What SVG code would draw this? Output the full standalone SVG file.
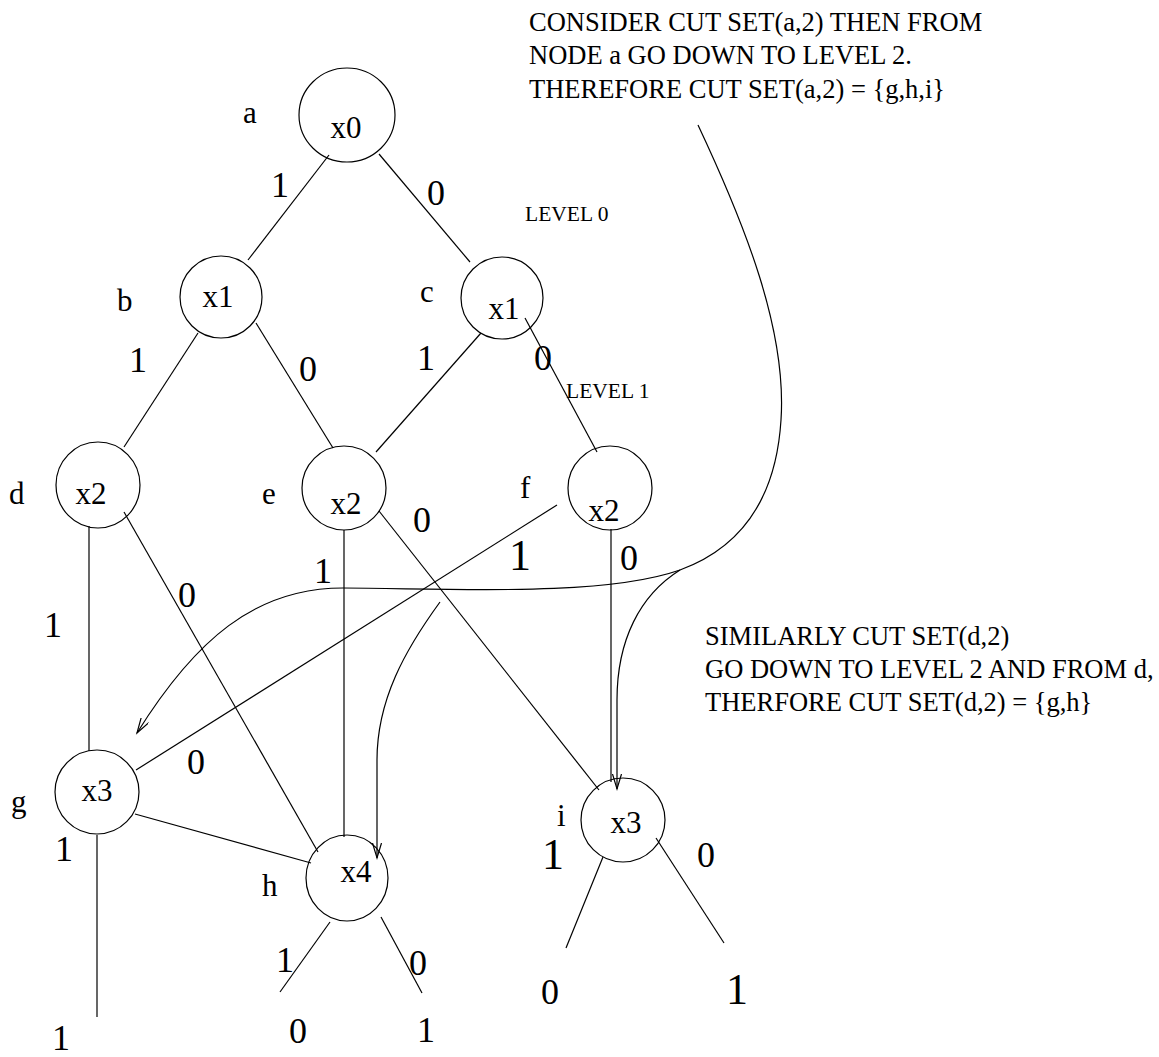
<svg xmlns="http://www.w3.org/2000/svg" width="1159" height="1057" viewBox="0 0 1159 1057">
<style>
text{font-family:"Liberation Serif","Times New Roman",serif;fill:#000}
.n{font-size:31px;text-anchor:middle}
.lb{font-size:31px}
.e{font-size:36px}
.big{font-size:44px}
.lv{font-size:21.5px}
.note{font-size:26.5px}
.c{fill:none;stroke:#000;stroke-width:1.2}
.ln{stroke:#000;stroke-width:1.2;fill:none}
.ar{stroke:#000;stroke-width:1.2;fill:none;marker-end:url(#ah)}
</style>
<defs>
<marker id="ah" markerUnits="userSpaceOnUse" markerWidth="20" markerHeight="12" refX="15" refY="4.5" orient="auto">
<path d="M0,0 L15,4.5 L0,9" fill="none" stroke="#000" stroke-width="1.2"/>
</marker>
</defs>
<g id="connectors">
<line class="ln" x1="329" y1="155" x2="248" y2="260"/>
<line class="ln" x1="379" y1="154" x2="470" y2="262"/>
<line class="ln" x1="198" y1="333" x2="124" y2="447"/>
<line class="ln" x1="256" y1="323" x2="333" y2="448"/>
<line class="ln" x1="481" y1="333" x2="376" y2="452"/>
<line class="ln" x1="525" y1="318" x2="597" y2="452"/>
<line class="ln" x1="89" y1="526" x2="89" y2="751"/>
<line class="ln" x1="124" y1="512" x2="318" y2="852"/>
<line class="ln" x1="344" y1="530" x2="344" y2="837"/>
<line class="ln" x1="379" y1="511" x2="599" y2="790"/>
<line class="ln" x1="557" y1="505" x2="136" y2="770"/>
<line class="ln" x1="611" y1="529" x2="611" y2="782"/>
<line class="ln" x1="135" y1="814" x2="311" y2="863"/>
<line class="ln" x1="97" y1="835" x2="97" y2="1017"/>
<line class="ln" x1="330" y1="922" x2="280" y2="992"/>
<line class="ln" x1="381" y1="917" x2="422" y2="993"/>
<line class="ln" x1="603" y1="857" x2="566" y2="948"/>
<line class="ln" x1="656" y1="838" x2="724" y2="943"/>
<path class="ar" d="M698,125 C745,225 787,330 781,420 C776,500 740,548 680,570 C600,598 440,588 343,588 C255,588 195,640 137,733"/>
<path class="ar" d="M680,570 C640,595 617,640 617,700 L617,789"/>
<path class="ar" d="M440,602 C405,650 377,700 377,760 L377,858"/>
</g>
<g id="node-a"><ellipse class="c" cx="347" cy="115" rx="48" ry="47"/><text class="n" x="346" y="138">x0</text><text class="lb" x="243" y="123">a</text></g>
<g id="node-b"><circle class="c" cx="221" cy="297" r="41"/><text class="n" x="218" y="307">x1</text><text class="lb" x="117" y="311">b</text></g>
<g id="node-c"><circle class="c" cx="502" cy="298" r="41"/><text class="n" x="504" y="319">x1</text><text class="lb" x="420" y="302">c</text></g>
<g id="node-d"><ellipse class="c" cx="98" cy="485" rx="42" ry="43"/><text class="n" x="91" y="504">x2</text><text class="lb" x="9" y="504">d</text></g>
<g id="node-e"><circle class="c" cx="344" cy="488" r="42"/><text class="n" x="346" y="514">x2</text><text class="lb" x="262" y="504">e</text></g>
<g id="node-f"><circle class="c" cx="610" cy="488" r="42"/><text class="n" x="604" y="521">x2</text><text class="lb" x="520" y="498">f</text></g>
<g id="node-g"><circle class="c" cx="97" cy="792" r="42"/><text class="n" x="97" y="801">x3</text><text class="lb" x="11" y="812">g</text></g>
<g id="node-h"><ellipse class="c" cx="347" cy="878" rx="41" ry="43"/><text class="n" x="356" y="882">x4</text><text class="lb" x="262" y="896">h</text></g>
<g id="node-i"><circle class="c" cx="623" cy="820" r="42"/><text class="n" x="626" y="833">x3</text><text class="lb" x="557" y="826">i</text></g>
<g id="labels">
<text class="e" x="271" y="197">1</text>
<text class="e" x="427" y="205">0</text>
<text class="lv" x="525" y="221">LEVEL 0</text>
<text class="e" x="129" y="372">1</text>
<text class="e" x="299" y="381">0</text>
<text class="e" x="417" y="370">1</text>
<text class="e" x="534" y="370">0</text>
<text class="lv" x="566" y="398">LEVEL 1</text>
<text class="e" x="413" y="532">0</text>
<text class="big" x="509" y="570">1</text>
<text class="e" x="620" y="570">0</text>
<text class="e" x="178" y="607">0</text>
<text class="e" x="314" y="583">1</text>
<text class="e" x="44" y="637">1</text>
<text class="e" x="187" y="774">0</text>
<text class="e" x="55" y="861">1</text>
<text class="big" x="542" y="869">1</text>
<text class="e" x="697" y="867">0</text>
<text class="e" x="276" y="972">1</text>
<text class="e" x="409" y="975">0</text>
<text class="e" x="541" y="1004">0</text>
<text class="big" x="726" y="1004">1</text>
<text class="e" x="289" y="1043">0</text>
<text class="e" x="417" y="1042">1</text>
<text class="e" x="52" y="1050">1</text>
</g>
<g id="notes">
<text class="note" x="529" y="31">CONSIDER CUT SET(a,2) THEN FROM</text>
<text class="note" x="529" y="64">NODE a GO DOWN TO LEVEL 2.</text>
<text class="note" x="529" y="98">THEREFORE CUT SET(a,2) = {g,h,i}</text>
<text class="note" x="705" y="645">SIMILARLY CUT SET(d,2)</text>
<text class="note" x="705" y="678">GO DOWN TO LEVEL 2 AND FROM d,</text>
<text class="note" x="705" y="711">THERFORE CUT SET(d,2) = {g,h}</text>
</g>
</svg>
